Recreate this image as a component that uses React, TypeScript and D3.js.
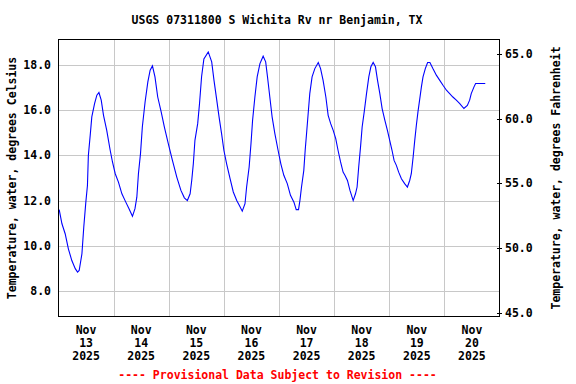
import React from 'react'
import { scaleLinear, scaleTime, line, timeDay, timeHour } from 'd3'

// USGS 07311800 water temperature
// hours since Nov 13 2025 00:00
const hoursSinceStart = [
  0.3, 1.5, 2.9, 4.3, 5.8, 7.3, 8.3, 9.0, 10.2, 11.0, 11.9, 12.6, 13.0, 13.8, 14.5, 15.7,
  16.7, 17.6, 18.6, 19.6, 21.0, 22.5, 23.5, 24.7, 26.1, 27.6, 29.3, 30.7, 32.2, 33.3, 34.1,
  34.8, 35.7, 36.5, 37.7, 38.9, 39.9, 40.9, 42.0, 43.2, 44.7, 46.1, 47.8, 49.6, 51.5, 53.3,
  54.8, 56.1, 57.3, 58.0, 58.7, 59.4, 60.6, 61.4, 62.3, 63.3, 65.2, 66.7, 67.7, 68.9, 69.9,
  71.0, 72.0, 73.2, 74.7, 76.1, 77.6, 78.7, 80.0, 81.2, 81.9, 83.0, 83.8, 84.5, 85.5, 86.5,
  87.7, 89.1, 90.2, 91.0, 92.0, 93.0, 94.2, 95.6, 96.8, 98.1, 99.6, 101.0, 102.5, 103.5,
  104.5, 105.1, 105.8, 106.8, 107.4, 108.0, 108.7, 109.4, 110.4, 111.6, 113.1, 114.1, 115.2,
  116.4, 117.4, 118.5, 119.6, 120.7, 121.7, 122.8, 123.9, 124.7, 125.8, 126.9, 128.3, 129.3,
  130.0, 130.7, 131.5, 132.2, 133.1, 134.1, 135.1, 136.0, 137.0, 138.0, 138.9, 139.9, 140.9,
  142.1, 143.2, 144.2, 145.2, 146.1, 147.1, 148.1, 149.3, 150.7, 151.9, 152.9, 153.6, 154.4,
  155.1, 155.8, 156.5, 157.3, 158.0, 158.7, 159.7, 160.7, 161.7, 163.0, 164.5, 166.0, 167.4,
  168.9, 170.3, 171.7, 173.2, 174.7, 176.5, 178.0, 179.0, 179.7, 180.9, 181.6, 185.8,
]
const tempC = [
  11.6, 10.97, 10.53, 9.86, 9.34, 8.98, 8.83, 8.9, 9.64, 10.82, 11.93, 12.67, 14.0, 14.89, 15.71, 16.3,
  16.67, 16.79, 16.45, 15.78, 15.11, 14.23, 13.71, 13.19, 12.82, 12.3, 11.93, 11.64, 11.3, 11.64, 12.15,
  13.19, 14.08, 15.26, 16.37, 17.26, 17.78, 17.97, 17.48, 16.59, 15.93, 15.26, 14.52, 13.78, 13.04, 12.45,
  12.12, 12.0, 12.3, 12.89, 13.63, 14.67, 15.41, 16.3, 17.5, 18.28, 18.59, 18.15, 17.33, 16.45, 15.71,
  14.97, 14.23, 13.63, 12.97, 12.38, 12.0, 11.79, 11.53, 11.86, 12.6, 13.49, 14.52, 15.56, 16.59, 17.48,
  18.07, 18.4, 18.15, 17.48, 16.59, 15.71, 14.97, 14.23, 13.63, 13.12, 12.75, 12.23, 11.93, 11.6,
  11.6, 12.0, 12.6, 13.34, 14.23, 14.97, 15.86, 16.74, 17.48, 17.85, 18.12, 17.85, 17.33,
  16.59, 15.78, 15.41, 15.11, 14.75, 14.23, 13.71, 13.26, 13.12, 12.89, 12.45, 12.0, 12.3,
  12.6, 13.49, 14.38, 15.26, 15.93, 16.74, 17.48, 17.93, 18.12, 17.93, 17.33, 16.74, 16.08,
  15.56, 15.11, 14.67, 14.23, 13.78, 13.56, 13.26, 12.97, 12.75, 12.6, 12.89, 13.19, 13.93,
  14.67, 15.34, 15.93, 16.52, 17.04, 17.48, 17.85, 18.12, 18.12, 17.85, 17.56, 17.33, 17.11,
  16.89, 16.74, 16.59, 16.45, 16.3, 16.08, 16.22, 16.45, 16.74, 17.04, 17.19, 17.19,
]

const celsiusTicks = [8, 10, 12, 14, 16, 18]
const fahrenheitTicks = [45, 50, 55, 60, 65]
const dayLabels = ['13', '14', '15', '16', '17', '18', '19', '20']

const title = 'USGS 07311800 S Wichita Rv nr Benjamin, TX'
const leftTitle = 'Temperature, water, degrees Celsius'
const rightTitle = 'Temperature, water, degrees Fahrenheit'
const footer = '---- Provisional Data Subject to Revision ----'

const W = 576
const H = 384
const plot = { left: 58.5, right: 499.5, top: 39.5, bottom: 316.5 }
const font = '"DejaVu Sans Mono", "Liberation Mono", monospace'

const start = new Date(2025, 10, 13)
const end = new Date(2025, 10, 21)

export default function App() {
  const x = scaleTime().domain([start, end]).range([plot.left, plot.right])
  const yC = scaleLinear().domain([6.86, 19.14]).range([plot.bottom, plot.top])
  // the right axis is scaled on its own, slightly off a pure C->F conversion
  const yF = scaleLinear().domain([44.69, 66.16]).range([plot.bottom, plot.top])

  const pts = hoursSinceStart.map((h, i) => ({ h, c: tempC[i] }))
  const path = line<{ h: number; c: number }>()
    .x(d => x(new Date(start.getTime() + d.h * 3600e3)))
    .y(d => yC(d.c))(pts)

  const midnights = timeDay.range(timeDay.offset(start, 1), end)
  const days = timeDay.range(start, end)

  return (
    <svg width={W} height={H} style={{ position: 'absolute', left: 0, top: 0, background: '#fff' }}
      fontFamily={font} fontWeight="bold" fontSize={11.5}>
      <text x={277} y={24} textAnchor="middle">{title}</text>

      {/* grid */}
      <g stroke="#c8c8c8" strokeWidth={1} shapeRendering="crispEdges">
        {celsiusTicks.map(t => (
          <line key={t} x1={plot.left} x2={plot.right} y1={Math.round(yC(t)) + 0.5} y2={Math.round(yC(t)) + 0.5} />
        ))}
        {midnights.map(d => (
          <line key={+d} x1={Math.round(x(d)) + 0.5} x2={Math.round(x(d)) + 0.5} y1={plot.top} y2={plot.bottom} />
        ))}
      </g>

      <path d={path ?? ''} fill="none" stroke="#0000ff" strokeWidth={1.1} />

      <rect x={plot.left} y={plot.top} width={plot.right - plot.left} height={plot.bottom - plot.top}
        fill="none" stroke="#000" strokeWidth={1} shapeRendering="crispEdges" />

      {/* left axis */}
      {celsiusTicks.map(t => (
        <text key={t} x={51} y={yC(t) + 4} textAnchor="end">{t.toFixed(1)}</text>
      ))}
      <text transform={`translate(16,${(plot.top + plot.bottom) / 2}) rotate(-90)`} textAnchor="middle">{leftTitle}</text>

      {/* right axis */}
      {fahrenheitTicks.map(t => (
        <g key={t}>
          <line x1={497} x2={502} y1={Math.round(yF(t)) + 0.5} y2={Math.round(yF(t)) + 0.5} stroke="#000" shapeRendering="crispEdges" />
          <text x={505} y={yF(t) + 4}>{t.toFixed(1)}</text>
        </g>
      ))}
      <text transform={`translate(560,${(plot.top + plot.bottom) / 2}) rotate(-90)`} textAnchor="middle">{rightTitle}</text>

      {/* x axis labels, centred on noon of each day */}
      {days.map((d, i) => {
        const cx = x(timeHour.offset(d, 12))
        return (
          <text key={+d} x={cx} textAnchor="middle">
            <tspan x={cx} y={334}>Nov</tspan>
            <tspan x={cx} y={347}>{dayLabels[i]}</tspan>
            <tspan x={cx} y={360}>2025</tspan>
          </text>
        )
      })}

      <text x={277.5} y={379} textAnchor="middle" fill="#ff0000">{footer}</text>
    </svg>
  )
}
